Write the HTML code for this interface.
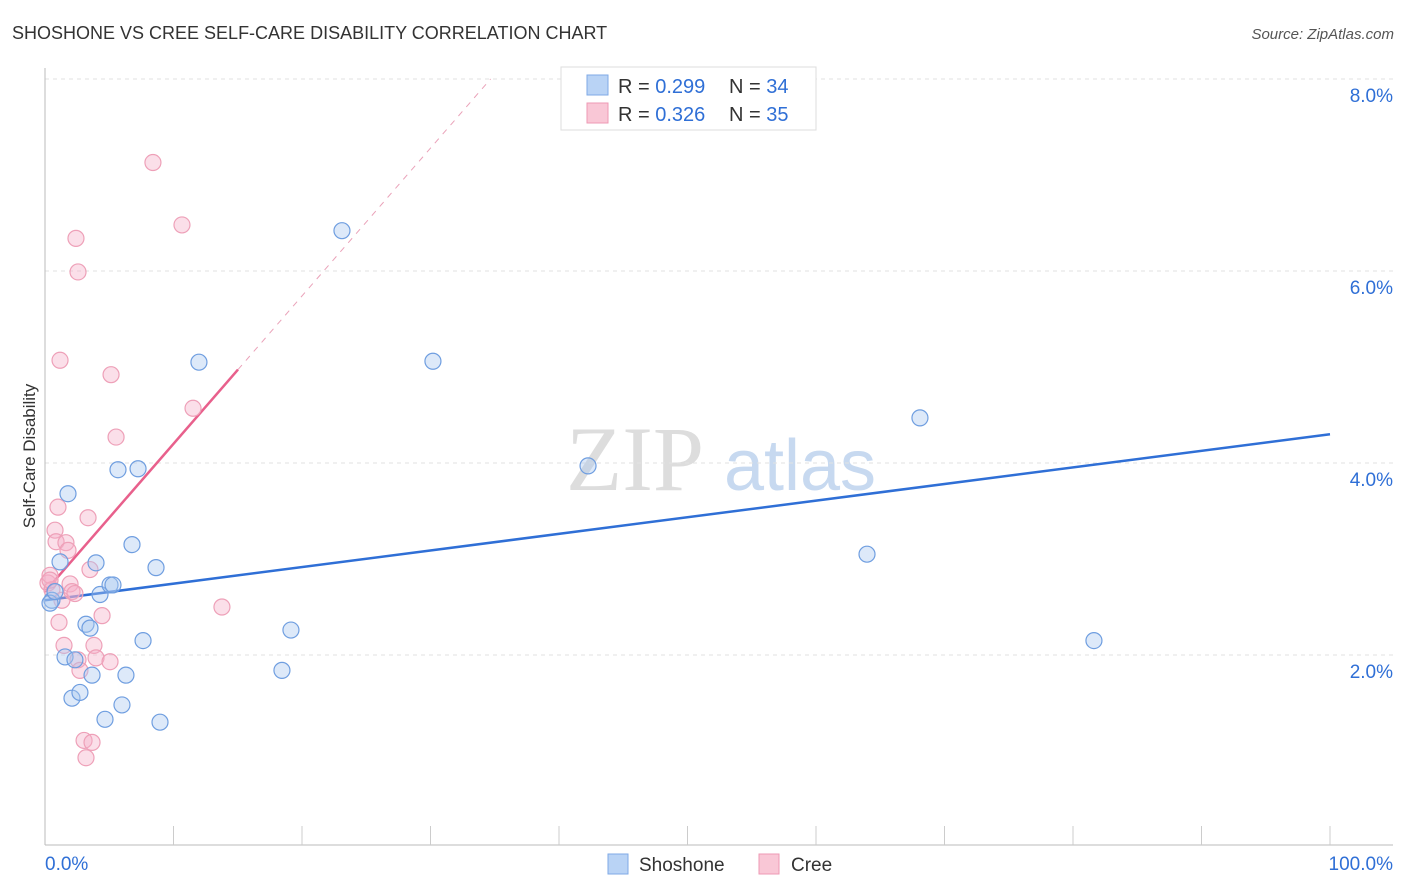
<!DOCTYPE html>
<html><head><meta charset="utf-8"><style>
body{margin:0;background:#fff;font-family:"Liberation Sans",sans-serif;}
svg{display:block}
</style></head><body>
<svg id="chart" width="1406" height="892">
<text x="12" y="39" font-size="18" fill="#333">SHOSHONE VS CREE SELF-CARE DISABILITY CORRELATION CHART</text>
<text x="1394" y="39" font-size="15" fill="#555" font-style="italic" text-anchor="end">Source: ZipAtlas.com</text>
<text x="35" y="456" font-size="17" fill="#333" text-anchor="middle" transform="rotate(-90 35 456)">Self-Care Disability</text>
<g><text x="635" y="490" font-size="92" font-family="Liberation Serif,serif" fill="#ddd" text-anchor="middle">ZIP</text><text x="800" y="490" font-size="72" fill="#c7d9f0" text-anchor="middle">atlas</text></g>
<g id="grid"></g><g id="axes"></g><g id="lines"></g><g id="pts"></g>
<g>
<rect x="561" y="67" width="255" height="63" fill="#fff" stroke="#ddd"/>
<rect x="587" y="75" width="21" height="20" fill="#b9d3f5" stroke="#7fa9e6"/>
<rect x="587" y="103" width="21" height="20" fill="#f9c7d6" stroke="#ee9ab4"/>
<text x="618" y="93" font-size="20" fill="#333">R = <tspan fill="#2f6fd6">0.299</tspan></text>
<text x="729" y="93" font-size="20" fill="#333">N = <tspan fill="#2f6fd6">34</tspan></text>
<text x="618" y="121" font-size="20" fill="#333">R = <tspan fill="#2f6fd6">0.326</tspan></text>
<text x="729" y="121" font-size="20" fill="#333">N = <tspan fill="#2f6fd6">35</tspan></text>
</g>
<g>
<rect x="608" y="854" width="20" height="20" fill="#b9d3f5" stroke="#7fa9e6"/>
<text x="639" y="871" font-size="19" fill="#333">Shoshone</text>
<rect x="759" y="854" width="20" height="20" fill="#f9c7d6" stroke="#ee9ab4"/>
<text x="791" y="871" font-size="19" fill="#333">Cree</text>
</g>
</svg>
<script>
const yTicks=[2,4,6,8];
const xTickLabels=["0.0%","100.0%"];
const shoX=[0.54,0.39,0.78,1.17,1.79,1.56,2.1,2.72,2.33,3.19,3.5,3.66,3.97,4.28,4.67,5.06,5.29,5.68,5.99,6.3,6.77,7.24,7.63,8.64,8.95,11.98,18.44,19.14,23.11,30.19,42.26,63.97,68.09,81.63];
const shoY=[2.57,2.54,2.66,2.97,3.68,1.98,1.55,1.61,1.95,2.32,2.28,1.79,2.96,2.63,1.33,2.73,2.73,3.93,1.48,1.79,3.15,3.94,2.15,2.91,1.30,5.05,1.84,2.26,6.42,5.06,3.97,3.05,4.47,2.15];
const creeX=[0.23,0.39,0.54,0.78,0.86,1.01,1.09,1.17,1.32,1.48,1.63,1.79,1.95,2.1,2.33,2.41,2.57,2.57,2.72,3.04,3.19,3.35,3.5,3.66,3.81,3.97,4.44,5.06,5.14,5.53,8.4,10.66,11.52,13.77,0.39];
const creeY=[2.75,2.83,2.68,3.30,3.18,3.54,2.34,5.07,2.57,2.10,3.17,3.09,2.74,2.66,2.64,6.34,5.99,1.95,1.84,1.11,0.93,3.43,2.89,1.09,2.10,1.97,2.41,1.93,4.92,4.27,7.13,6.48,4.57,2.50,2.78];
const shoTrend=[2.57,0.0173];
const creeTrend=[2.66,0.154];
const NS="http://www.w3.org/2000/svg";
const X=v=>45+v*12.85, Y=v=>847-v*96;
function mk(p,t,a){const e=document.createElementNS(NS,t);for(const k in a)e.setAttribute(k,a[k]);document.getElementById(p).appendChild(e);return e;}
yTicks.forEach(t=>{
 const g=mk('grid','line',{x1:45,x2:1393,y1:Y(t),y2:Y(t),stroke:'#e2e2e2','stroke-dasharray':'4,4'});
 
 
 const l=mk('grid','text',{x:1393,y:Y(t)+23,'font-size':19,fill:'#2f6fd6','text-anchor':'end'});
 l.textContent=t.toFixed(1)+'%';
 
 
});
mk('axes','line',{x1:45,x2:45,y1:68,y2:845,stroke:'#bbb'});
const xa=mk('axes','line',{x1:45,x2:1393,y1:845,y2:845,stroke:'#bbb'});


for(let i=1;i<=10;i++)mk('axes','line',{x1:X(i*10),x2:X(i*10),y1:826,y2:845,stroke:'#ccc'});
const xl0=mk('axes','text',{x:45,y:870,'font-size':19,fill:'#2f6fd6'});xl0.textContent=xTickLabels[0];


const xl1=mk('axes','text',{x:1393,y:870,'font-size':19,fill:'#2f6fd6','text-anchor':'end'});xl1.textContent=xTickLabels[1];


const bl=mk('lines','line',{x1:X(0),y1:Y(shoTrend[0]),x2:X(100),y2:Y(shoTrend[0]+100*shoTrend[1]),stroke:'#2f6fd6','stroke-width':2.5});


const pEnd=15.02;
const pl=mk('lines','line',{x1:X(0),y1:Y(creeTrend[0]),x2:X(pEnd),y2:Y(creeTrend[0]+pEnd*creeTrend[1]),stroke:'#e8608c','stroke-width':2.5});


const dEnd=(8.0-creeTrend[0])/creeTrend[1];
const pd=mk('lines','line',{x1:X(pEnd),y1:Y(creeTrend[0]+pEnd*creeTrend[1]),x2:X(dEnd),y2:Y(8.0),stroke:'#eaa2b9','stroke-width':1,'stroke-dasharray':'6,6'});


creeX.forEach((x,i)=>{const c=mk('pts','circle',{cx:X(x),cy:Y(creeY[i]),r:8,fill:'rgba(246,176,199,0.4)',stroke:'#eea0b8','stroke-width':1.2});
 
 });
shoX.forEach((x,i)=>{const c=mk('pts','circle',{cx:X(x),cy:Y(shoY[i]),r:8,fill:'rgba(170,200,240,0.4)',stroke:'#6f9ee0','stroke-width':1.2});
 
 });
</script>
</body></html>
